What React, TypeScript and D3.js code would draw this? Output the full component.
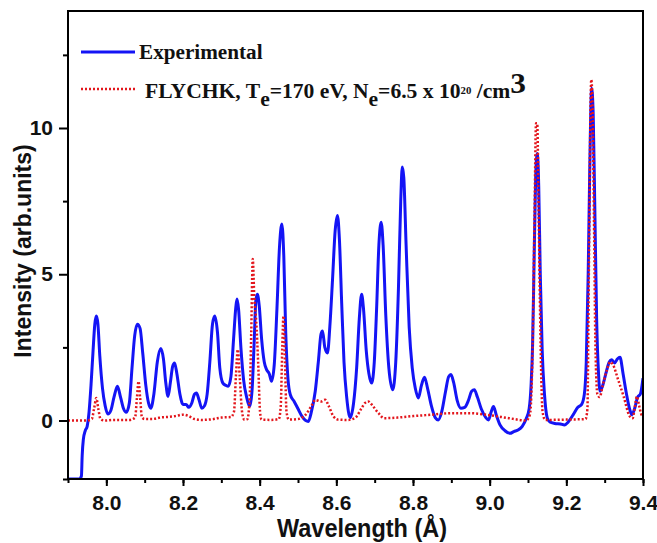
import React, { useRef, useEffect } from 'react';
import * as d3 from 'd3';

// experimental spectrum: [wavelength (Å), intensity]
const expWavelength = [
  7.9, 7.93, 7.935, 7.937, 7.94, 7.945, 7.95, 7.955, 7.96, 7.965, 7.97, 7.974, 7.978, 7.983, 7.99, 7.997,
  8.004, 8.012, 8.02, 8.029, 8.037, 8.045, 8.052, 8.06, 8.067, 8.074, 8.081, 8.088, 8.095, 8.103, 8.11,
  8.116, 8.124, 8.133, 8.142, 8.149, 8.155, 8.161, 8.167, 8.173, 8.178, 8.184, 8.192, 8.2, 8.208, 8.215,
  8.223, 8.23, 8.235, 8.242, 8.249, 8.256, 8.263, 8.27, 8.277, 8.283, 8.29, 8.296, 8.304, 8.312, 8.318,
  8.325, 8.332, 8.338, 8.341, 8.345, 8.351, 8.358, 8.366, 8.374, 8.38, 8.386, 8.39, 8.394, 8.399, 8.405,
  8.412, 8.418, 8.425, 8.431, 8.438, 8.445, 8.452, 8.458, 8.463, 8.468, 8.474, 8.48, 8.49, 8.5, 8.51,
  8.52, 8.527, 8.535, 8.545, 8.553, 8.56, 8.564, 8.57, 8.577, 8.583, 8.59, 8.597, 8.603, 8.608, 8.614,
  8.62, 8.627, 8.636, 8.645, 8.653, 8.66, 8.666, 8.671, 8.678, 8.685, 8.692, 8.699, 8.705, 8.711, 8.717,
  8.722, 8.729, 8.737, 8.747, 8.755, 8.762, 8.768, 8.772, 8.776, 8.782, 8.79, 8.798, 8.806, 8.814, 8.822,
  8.83, 8.838, 8.848, 8.858, 8.866, 8.875, 8.885, 8.893, 8.899, 8.906, 8.915, 8.925, 8.935, 8.945, 8.953,
  8.96, 8.968, 8.978, 8.99, 8.997, 9.004, 9.01, 9.017, 9.027, 9.04, 9.053, 9.063, 9.075, 9.085, 9.095,
  9.103, 9.108, 9.112, 9.116, 9.12, 9.124, 9.128, 9.132, 9.137, 9.143, 9.15, 9.157, 9.17, 9.185, 9.195,
  9.205, 9.218, 9.23, 9.24, 9.247, 9.252, 9.257, 9.261, 9.266, 9.27, 9.274, 9.279, 9.284, 9.288, 9.295,
  9.303, 9.312, 9.318, 9.326, 9.333, 9.34, 9.348, 9.357, 9.365, 9.371, 9.378, 9.386, 9.393, 9.4,
];
const expIntensity = [
  -2.0, -2.0, -1.9, -1.2, -0.65, -0.35, -0.2, 0.3, 1.2, 2.3, 3.3, 3.57, 3.3, 2.2, 1.1, 0.5,
  0.22, 0.35, 0.8, 1.17, 0.8, 0.4, 0.28, 0.6, 1.8, 2.9, 3.29, 3.15, 2.3, 1.2, 0.6,
  0.42, 0.9, 2.0, 2.46, 2.1, 1.3, 0.82, 1.3, 1.85, 1.97, 1.6, 0.9, 0.55, 0.55, 0.45,
  0.6, 0.9, 0.94, 0.7, 0.42, 0.5, 0.9, 2.0, 3.3, 3.57, 3.0, 1.8, 1.28, 1.2, 1.17,
  1.5, 2.8, 3.9, 4.15, 3.8, 2.5, 1.4, 0.8, 0.48, 1.0, 2.8, 4.1, 4.32, 3.9, 2.8,
  2.0, 1.74, 1.6, 1.34, 1.9, 3.8, 6.0, 6.72, 5.6, 3.0, 1.4, 0.88, 0.65, 0.4, 0.15,
  0.0, -0.03, 0.3, 1.0, 2.0, 2.95, 3.06, 2.5, 2.31, 3.2, 4.8, 6.5, 7.01, 6.2, 4.0,
  2.0, 0.8, 0.1, 0.6, 1.8, 3.5, 4.32, 3.8, 2.4, 1.6, 1.28, 2.0, 3.8, 6.0, 6.78,
  6.0, 3.6, 1.8, 1.05, 2.0, 4.5, 7.5, 8.67, 8.3, 6.0, 3.2, 1.8, 1.1, 0.77, 1.2,
  1.48, 1.1, 0.5, 0.1, 0.02, 0.3, 1.0, 1.5, 1.57, 1.3, 0.7, 0.42, 0.45, 0.7, 1.0,
  1.05, 0.8, 0.4, 0.1, 0.02, 0.3, 0.48, 0.2, -0.15, -0.35, -0.44, -0.38, -0.32, -0.2, 0.05,
  0.4, 1.2, 2.6, 5.5, 8.3, 9.13, 8.0, 5.0, 2.4, 0.9, 0.1, -0.05, -0.1, -0.12, -0.15,
  -0.05, 0.2, 0.45, 0.55, 0.9, 2.0, 5.0, 8.5, 11.36, 10.5, 7.5, 3.5, 1.6, 1.0, 1.2,
  1.6, 2.0, 2.08, 1.97, 2.1, 2.16, 1.6, 0.9, 0.4, 0.2, 0.4, 0.8, 0.9, 1.45,
];

// FLYCHK simulation
const simWavelength = [
  7.9, 7.95, 7.962, 7.968, 7.974, 7.979, 7.985, 7.995, 8.02, 8.06, 8.075, 8.08, 8.084, 8.088, 8.093,
  8.1, 8.12, 8.14, 8.16, 8.18, 8.2, 8.215, 8.23, 8.25, 8.28, 8.3, 8.325, 8.333, 8.338, 8.343, 8.348,
  8.354, 8.36, 8.368, 8.374, 8.378, 8.382, 8.386, 8.391, 8.396, 8.401, 8.405, 8.43, 8.45, 8.455, 8.459,
  8.462, 8.466, 8.47, 8.476, 8.5, 8.52, 8.535, 8.545, 8.56, 8.571, 8.58, 8.592, 8.605, 8.63, 8.65,
  8.665, 8.675, 8.683, 8.695, 8.71, 8.725, 8.76, 8.8, 8.85, 8.9, 8.95, 9.0, 9.05, 9.095, 9.105, 9.112,
  9.117, 9.121, 9.124, 9.128, 9.133, 9.138, 9.145, 9.2, 9.25, 9.255, 9.258, 9.262, 9.265, 9.268, 9.272,
  9.276, 9.281, 9.287, 9.295, 9.305, 9.315, 9.322, 9.335, 9.35, 9.365, 9.373, 9.378, 9.384, 9.39, 9.396, 9.4,
];
const simIntensity = [
  0.0, 0.0, 0.05, 0.4, 0.77, 0.4, 0.05, 0.0, 0.02, 0.02, 0.1, 0.8, 1.34, 0.8, 0.1,
  0.05, 0.05, 0.1, 0.12, 0.15, 0.2, 0.15, 0.05, 0.02, 0.05, 0.1, 0.12, 0.3, 1.5, 2.43, 1.5,
  0.3, 0.03, 0.05, 0.8, 3.0, 5.52, 4.2, 3.4, 2.0, 0.3, 0.03, 0.02, 0.05, 0.5, 2.5,
  3.57, 2.0, 0.3, 0.03, 0.05, 0.2, 0.5, 0.7, 0.65, 0.71, 0.5, 0.15, 0.03, 0.02, 0.1,
  0.4, 0.6, 0.65, 0.5, 0.25, 0.08, 0.1, 0.15, 0.2, 0.25, 0.25, 0.18, 0.08, 0.0, 0.2, 2.5,
  7.0, 10.16, 10.16, 7.0, 2.5, 0.3, 0.02, 0.03, 0.05, 0.4, 4.0, 9.5, 11.65, 11.0, 7.0,
  2.5, 0.9, 0.8, 1.2, 1.7, 2.0, 1.9, 1.4, 0.8, 0.15, 0.08, 0.4, 0.82, 0.5, 0.2, 0.15,
];

const xTicks = [8.0, 8.2, 8.4, 8.6, 8.8, 9.0, 9.2, 9.4];
const yTicks = [0, 5, 10];

const width = 657;
const height = 543;
const margin = { top: 11, right: 14, bottom: 64, left: 68 };

const App = () => {
  const svgRef = useRef<SVGSVGElement>(null);

  useEffect(() => {
    const svg = d3.select(svgRef.current);
    svg.selectAll('*').remove();

    const x = d3.scaleLinear().domain([7.9, 9.4]).range([margin.left, width - margin.right]);
    const y = d3.scaleLinear().domain([-2, 14]).range([height - margin.bottom, margin.top]);

    svg.append('defs').append('clipPath').attr('id', 'plotclip')
      .append('rect')
      .attr('x', margin.left).attr('y', margin.top)
      .attr('width', width - margin.left - margin.right)
      .attr('height', height - margin.top - margin.bottom);

    const line = d3.line<[number, number]>()
      .x((d) => x(d[0]))
      .y((d) => y(d[1]))
      .curve(d3.curveMonotoneX);

    const expData: [number, number][] = expWavelength.map((w, i) => [w, expIntensity[i]]);
    const simData: [number, number][] = simWavelength.map((w, i) => [w, simIntensity[i]]);

    const plot = svg.append('g').attr('clip-path', 'url(#plotclip)');

    plot.append('path')
      .datum(expData)
      .attr('d', line)
      .attr('fill', 'none')
      .attr('stroke', '#1414f5')
      .attr('stroke-width', 3)
      .attr('stroke-linejoin', 'round');

    plot.append('path')
      .datum(simData)
      .attr('d', line)
      .attr('fill', 'none')
      .attr('stroke', '#e3161c')
      .attr('stroke-width', 2.5)
      .attr('stroke-dasharray', '2,2');

    // axes
    const tickFont = '"Liberation Sans", Arial, sans-serif';

    const xAxis = svg.append('g')
      .attr('transform', `translate(0,${height - margin.bottom})`)
      .call(d3.axisBottom(x).tickValues(d3.range(7.9, 9.41, 0.1)).tickSize(4).tickFormat(() => ''));
    xAxis.select('.domain').remove();
    xAxis.selectAll('line').attr('stroke', '#000').attr('stroke-width', 2);

    const xMajor = svg.append('g')
      .attr('transform', `translate(0,${height - margin.bottom})`)
      .call(d3.axisBottom(x).tickValues(xTicks).tickSize(7).tickPadding(9).tickFormat(d3.format('.1f')));
    xMajor.select('.domain').remove();
    xMajor.selectAll('line').attr('stroke', '#000').attr('stroke-width', 2);
    xMajor.selectAll('text')
      .attr('font-family', tickFont).attr('font-weight', 'bold').attr('font-size', 21).attr('fill', '#111');

    const yAxis = svg.append('g')
      .attr('transform', `translate(${margin.left},0)`)
      .call(d3.axisLeft(y).tickValues([-2, 2.5, 7.5, 12.5]).tickSize(5).tickFormat(() => ''));
    yAxis.select('.domain').remove();
    yAxis.selectAll('line').attr('stroke', '#000').attr('stroke-width', 2);

    const yMajor = svg.append('g')
      .attr('transform', `translate(${margin.left},0)`)
      .call(d3.axisLeft(y).tickValues(yTicks).tickSize(9).tickPadding(6).tickFormat(d3.format('d')));
    yMajor.select('.domain').remove();
    yMajor.selectAll('line').attr('stroke', '#000').attr('stroke-width', 2);
    yMajor.selectAll('text')
      .attr('font-family', tickFont).attr('font-weight', 'bold').attr('font-size', 21).attr('fill', '#111');

    // frame
    svg.append('rect')
      .attr('x', margin.left).attr('y', margin.top)
      .attr('width', width - margin.left - margin.right)
      .attr('height', height - margin.top - margin.bottom)
      .attr('fill', 'none').attr('stroke', '#000').attr('stroke-width', 2);

    // axis titles
    svg.append('text')
      .attr('x', 277).attr('y', 537)
      .attr('textLength', 170).attr('lengthAdjust', 'spacingAndGlyphs')
      .attr('font-family', tickFont).attr('font-weight', 'bold').attr('font-size', 26)
      .attr('fill', '#111')
      .text('Wavelength (Å)');

    svg.append('text')
      .attr('transform', 'translate(31,251) rotate(-90)')
      .attr('text-anchor', 'middle')
      .attr('font-family', tickFont).attr('font-weight', 'bold').attr('font-size', 23)
      .attr('fill', '#111')
      .text('Intensity (arb.units)');

    // legend
    const serif = '"Liberation Serif", "Times New Roman", serif';
    const legend = svg.append('g').attr('font-family', serif).attr('font-weight', 'bold').attr('fill', '#111');

    legend.append('line')
      .attr('x1', 81).attr('x2', 135).attr('y1', 52).attr('y2', 52)
      .attr('stroke', '#1414f5').attr('stroke-width', 3);
    legend.append('text')
      .attr('transform', 'translate(139,59) scale(1.06,1)')
      .attr('font-size', 20)
      .text('Experimental');

    legend.append('line')
      .attr('x1', 81).attr('x2', 135).attr('y1', 89).attr('y2', 89)
      .attr('stroke', '#e3161c').attr('stroke-width', 2.5).attr('stroke-dasharray', '2,2');
    const t = legend.append('text')
      .attr('transform', 'translate(145,98) scale(1.08,1)')
      .attr('font-size', 20);
    t.append('tspan').text('FLYCHK, T');
    t.append('tspan').attr('dy', 8).text('e');
    t.append('tspan').attr('dy', -8).text('=170 eV, N');
    t.append('tspan').attr('dy', 8).text('e');
    t.append('tspan').attr('dy', -8).text('=6.5 x 10');
    t.append('tspan').attr('dy', -4).attr('font-size', 10).text('20');
    t.append('tspan').attr('dy', 4).text(' /cm');
    t.append('tspan').attr('dy', -5).attr('font-size', 29).text('3');
  }, []);

  return (
    <svg
      ref={svgRef}
      width={width}
      height={height}
      style={{ position: 'absolute', left: 0, top: 0, background: '#fff' }}
    />
  );
};

export default App;
